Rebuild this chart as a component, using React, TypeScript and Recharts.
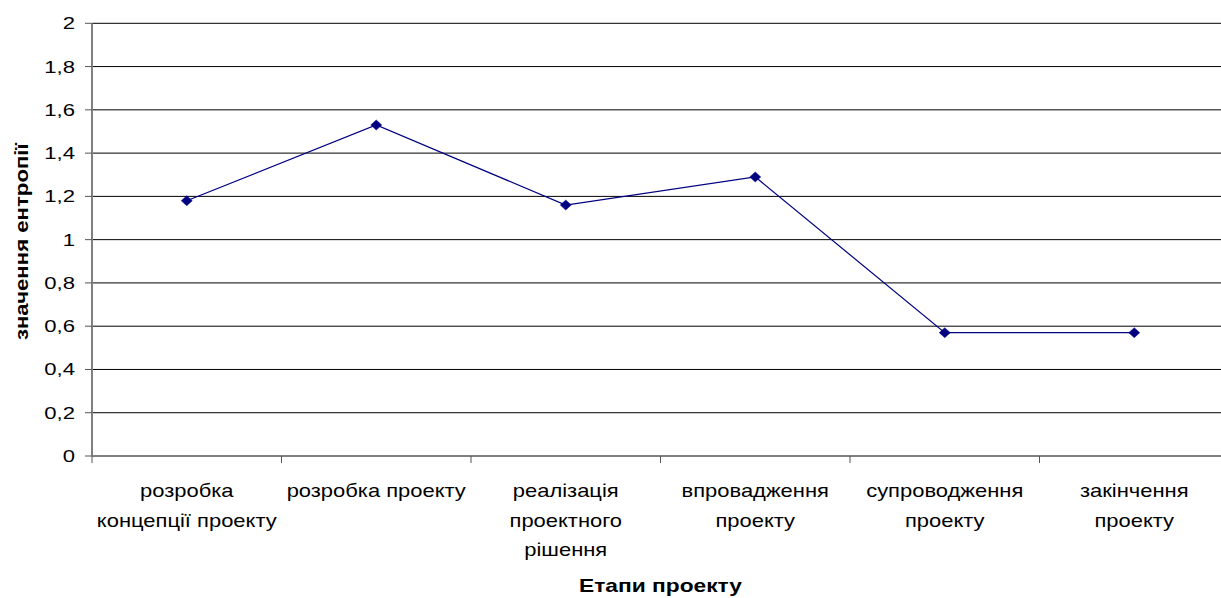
import React from "react";
import {
  LineChart,
  Line,
  XAxis,
  YAxis,
  CartesianGrid,
  Label,
} from "recharts";

// етапи проекту (підписи з переносами рядків)
const stages = [
  "розробка\nконцепції проекту",
  "розробка проекту",
  "реалізація\nпроектного\nрішення",
  "впровадження\nпроекту",
  "супроводження\nпроекту",
  "закінчення\nпроекту",
];
const entropy = [1.18, 1.53, 1.16, 1.29, 0.57, 0.57];
const yTicks = [0, 0.2, 0.4, 0.6, 0.8, 1, 1.2, 1.4, 1.6, 1.8, 2];

const data = stages.map((stage, i) => ({ stage, value: entropy[i] }));

const FONT = "'Liberation Sans', Arial, sans-serif";

function XTick(props: any) {
  const { x, y, payload } = props;
  const lines = String(payload.value).split("\n");
  const off = payload.offset || 0;
  return (
    <g>
      <line x1={x - off} x2={x - off} y1={y} y2={y + 7} stroke="#555" strokeWidth={1} />
      {lines.map((ln: string, i: number) => (
        <text
          key={i}
          transform={`translate(${x},${y + 41 + i * 29.5}) scale(1.22,1)`}
          textAnchor="middle"
          fontFamily={FONT}
          fontSize={18}
          fill="#000"
        >
          {ln}
        </text>
      ))}
    </g>
  );
}

function YTick(props: any) {
  const { x, y, payload } = props;
  return (
    <text
      transform={`translate(${x},${y + 6}) scale(1.3,1)`}
      textAnchor="end"
      fontFamily={FONT}
      fontSize={17}
      fill="#000"
    >
      {String(payload.value).replace(".", ",")}
    </text>
  );
}

function Diamond(props: any) {
  const { cx, cy } = props;
  if (cx == null || cy == null) return null;
  return (
    <path
      d={`M${cx},${cy - 5} L${cx + 5.5},${cy} L${cx},${cy + 5} L${cx - 5.5},${cy} Z`}
      fill="#000080"
      stroke="#000080"
      strokeWidth={0.5}
    />
  );
}

function YTitle(props: any) {
  const vb = props.viewBox || { x: 0, y: 23, width: 92, height: 433 };
  const cx = vb.x + 28;
  const cy = vb.y + vb.height / 2 + 2;
  return (
    <text
      transform={`translate(${cx},${cy}) rotate(-90) scale(1.2,1)`}
      textAnchor="middle"
      fontFamily={FONT}
      fontSize={18.5}
      fontWeight="bold"
      fill="#000"
    >
      значення ентропії
    </text>
  );
}

function XTitle(props: any) {
  const vb = props.viewBox || { x: 92, y: 456, width: 1137, height: 142 };
  return (
    <text
      transform={`translate(${vb.x + vb.width / 2},${vb.y + 136}) scale(1.23,1)`}
      textAnchor="middle"
      fontFamily={FONT}
      fontSize={18.5}
      fontWeight="bold"
      fill="#000"
    >
      Етапи проекту
    </text>
  );
}

export default function App() {
  return (
    <div
      style={{
        position: "absolute",
        left: 0,
        top: 0,
        width: 1221,
        height: 598,
        overflow: "hidden",
        background: "#fff",
      }}
    >
      <LineChart
        width={1229}
        height={598}
        data={data}
        margin={{ top: 23.3, right: 0, bottom: 0, left: 0 }}
      >
        <CartesianGrid vertical={false} stroke="#000" strokeWidth={1} />
        <XAxis
          dataKey="stage"
          type="category"
          scale="band"
          interval={0}
          height={142}
          tickSize={0}
          tickMargin={0}
          tickLine={false}
          axisLine={{ stroke: "#808080", strokeWidth: 2 }}
          tick={<XTick />}
        >
          <Label content={<XTitle />} />
        </XAxis>
        <YAxis
          width={92}
          domain={[0, 2]}
          ticks={yTicks}
          interval={0}
          tickSize={7}
          tickMargin={10}
          tickLine={{ stroke: "#555", strokeWidth: 1 }}
          axisLine={{ stroke: "#808080", strokeWidth: 2 }}
          tick={<YTick />}
        >
          <Label content={<YTitle />} />
        </YAxis>
        <Line
          type="linear"
          dataKey="value"
          stroke="#000080"
          strokeWidth={1.2}
          dot={<Diamond />}
          activeDot={false}
          isAnimationActive={false}
        />
      </LineChart>
    </div>
  );
}
